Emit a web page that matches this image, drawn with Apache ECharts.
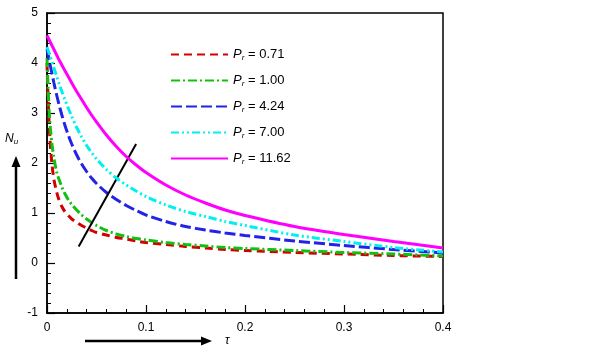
<!DOCTYPE html>
<html>
<head>
<meta charset="utf-8">
<script src="https://cdn.jsdelivr.net/npm/echarts@6/dist/echarts.min.js"></script>
<style>
  html, body { margin: 0; padding: 0; background: #fff; }
  #chart { width: 602px; height: 358px; }
</style>
</head>
<body>
<div id="chart"></div>
<script>
// tau values shared by all curves
const tau = [0, 0.001, 0.002, 0.003, 0.005, 0.007, 0.01, 0.012, 0.015, 0.018, 0.022, 0.025,
  0.03, 0.035, 0.04, 0.045, 0.05, 0.06, 0.07, 0.08, 0.09, 0.1, 0.12, 0.14, 0.16, 0.18,
  0.2, 0.25, 0.3, 0.35, 0.4]

// Nu for each Prandtl number
const nuPr071 = [4.0, 3.35, 2.85, 2.47, 1.98, 1.67, 1.4, 1.27, 1.13, 1.03, 0.94, 0.88,
  0.81, 0.75, 0.7, 0.65, 0.61, 0.56, 0.51, 0.48, 0.44, 0.41, 0.37, 0.33, 0.3, 0.27,
  0.25, 0.21, 0.18, 0.15, 0.13]
const nuPr100 = [4.1, 3.55, 3.1, 2.78, 2.38, 2.1, 1.8, 1.68, 1.52, 1.39, 1.25, 1.17,
  1.06, 0.96, 0.88, 0.81, 0.75, 0.65, 0.58, 0.53, 0.49, 0.46, 0.41, 0.37, 0.34, 0.31,
  0.29, 0.25, 0.21, 0.18, 0.14]
const nuPr424 = [4.28, 4.18, 4.08, 3.98, 3.79, 3.6, 3.34, 3.18, 2.96, 2.76, 2.53, 2.38,
  2.16, 1.98, 1.83, 1.7, 1.59, 1.41, 1.27, 1.15, 1.05, 0.96, 0.83, 0.73, 0.66, 0.6,
  0.55, 0.44, 0.35, 0.27, 0.2]
const nuPr700 = [4.32, 4.26, 4.2, 4.14, 4.02, 3.9, 3.72, 3.6, 3.43, 3.27, 3.07, 2.93,
  2.71, 2.52, 2.35, 2.21, 2.08, 1.87, 1.7, 1.56, 1.44, 1.33, 1.16, 1.03, 0.93, 0.83,
  0.75, 0.56, 0.43, 0.31, 0.22]
const nuPr1162 = [4.55, 4.51, 4.47, 4.43, 4.35, 4.27, 4.15, 4.07, 3.96, 3.85, 3.71, 3.6,
  3.43, 3.27, 3.11, 2.96, 2.82, 2.56, 2.33, 2.13, 1.96, 1.81, 1.56, 1.36, 1.2, 1.06,
  0.95, 0.73, 0.57, 0.43, 0.3]

const prLabels = ['0.71', '1.00', '4.24', '7.00', '11.62']
const xTicks = [0, 0.1, 0.2, 0.3, 0.4]
const yTicks = [-1, 0, 1, 2, 3, 4, 5]

// arrow showing increasing Pr (tail, head)
const arrowTail = [0.032, 0.33]
const arrowHead = [0.09, 2.38]

const font = 'Liberation Sans, Arial, sans-serif'

const styles = [
  { color: '#d40000', type: [8, 5] },
  { color: '#12c012', type: [9, 3, 2, 3] },
  { color: '#2323e6', type: [11, 4] },
  { color: '#00f0f0', type: [8, 3, 2, 3, 2, 3] },
  { color: '#ff00ff', type: 'solid' }
]
const curves = [nuPr071, nuPr100, nuPr424, nuPr700, nuPr1162]

function pairs(ys) {
  return tau.map((t, i) => [t, ys[i]])
}

const chart = echarts.init(document.getElementById('chart'))

const series = curves.map((ys, i) => ({
  name: prLabels[i],
  type: 'line',
  data: pairs(ys),
  symbol: 'none',
  smooth: 0.3,
  lineStyle: { color: styles[i].color, width: 3, type: styles[i].type },
  itemStyle: { color: styles[i].color },
  z: 2 + i
}))

// the black arrow inside the plot
series.push({
  name: 'arrow',
  type: 'line',
  data: [],
  markLine: {
    silent: true,
    symbol: ['none', 'arrow'],
    symbolSize: [0, 11],
    label: { show: false },
    lineStyle: { color: '#000', width: 2, type: 'solid' },
    data: [[{ coord: arrowTail }, { coord: arrowHead }]]
  },
  z: 10
})

const option = {
  animation: false,
  grid: {
    left: 47, right: 159, top: 13, bottom: 45,
    show: true, borderColor: '#000', borderWidth: 1.5
  },
  legend: {
    data: prLabels,
    orient: 'vertical',
    left: 165,
    top: 43,
    itemWidth: 57,
    itemHeight: 14,
    itemGap: 12,
    itemStyle: { opacity: 0 },
    textStyle: {
      fontFamily: font, fontSize: 13, color: '#000',
      rich: {
        p: { fontFamily: font, fontSize: 13, fontStyle: 'italic', color: '#000' },
        s: { fontFamily: font, fontSize: 8, fontStyle: 'italic', color: '#000', padding: [7, 0, 0, 0] },
        t: { fontFamily: font, fontSize: 13, color: '#000' }
      }
    },
    formatter: name => '{p|P}{s|r}{t| = ' + name + '}'
  },
  xAxis: {
    type: 'value',
    min: xTicks[0],
    max: xTicks[xTicks.length - 1],
    interval: 0.1,
    axisLine: { show: true, onZero: false, lineStyle: { color: '#000', width: 1.5 } },
    axisTick: { inside: true, length: 8, lineStyle: { color: '#000', width: 1.2 } },
    minorTick: { show: true, splitNumber: 5, length: 4, lineStyle: { color: '#000', width: 1 } },
    splitLine: { show: false },
    axisLabel: { fontFamily: font, fontSize: 12, color: '#000', margin: 9 }
  },
  yAxis: {
    type: 'value',
    min: yTicks[0],
    max: yTicks[yTicks.length - 1],
    interval: 1,
    axisLine: { show: true, onZero: false, lineStyle: { color: '#000', width: 1.5 } },
    axisTick: { inside: true, length: 8, lineStyle: { color: '#000', width: 1.2 } },
    minorTick: { show: true, splitNumber: 5, length: 4, lineStyle: { color: '#000', width: 1 } },
    splitLine: { show: false },
    axisLabel: { fontFamily: font, fontSize: 12, color: '#000', margin: 9 }
  },
  graphic: [
    // Nu label and vertical arrow
    {
      type: 'text', left: 5, top: 133,
      style: {
        text: '{n|N}{s|u}',
        rich: {
          n: { fontFamily: font, fontSize: 12, fontStyle: 'italic', fill: '#000' },
          s: { fontFamily: font, fontSize: 8, fontStyle: 'italic', fill: '#000', padding: [6, 0, 0, 0] }
        }
      }
    },
    { type: 'line', shape: { x1: 16, y1: 279, x2: 16, y2: 166 }, style: { stroke: '#000', lineWidth: 2.5 } },
    { type: 'polygon', shape: { points: [[16, 156], [11.5, 167], [20.5, 167]] }, style: { fill: '#000' } },
    // tau label and horizontal arrow
    {
      type: 'text', left: 225, top: 335,
      style: { text: 'τ', fontFamily: font, fontSize: 12, fontStyle: 'italic', fill: '#000' }
    },
    { type: 'line', shape: { x1: 85, y1: 341, x2: 202, y2: 341 }, style: { stroke: '#000', lineWidth: 2.5 } },
    { type: 'polygon', shape: { points: [[212, 341], [201, 336.5], [201, 345.5]] }, style: { fill: '#000' } }
  ],
  series: series
}

chart.setOption(option)
</script>
</body>
</html>
